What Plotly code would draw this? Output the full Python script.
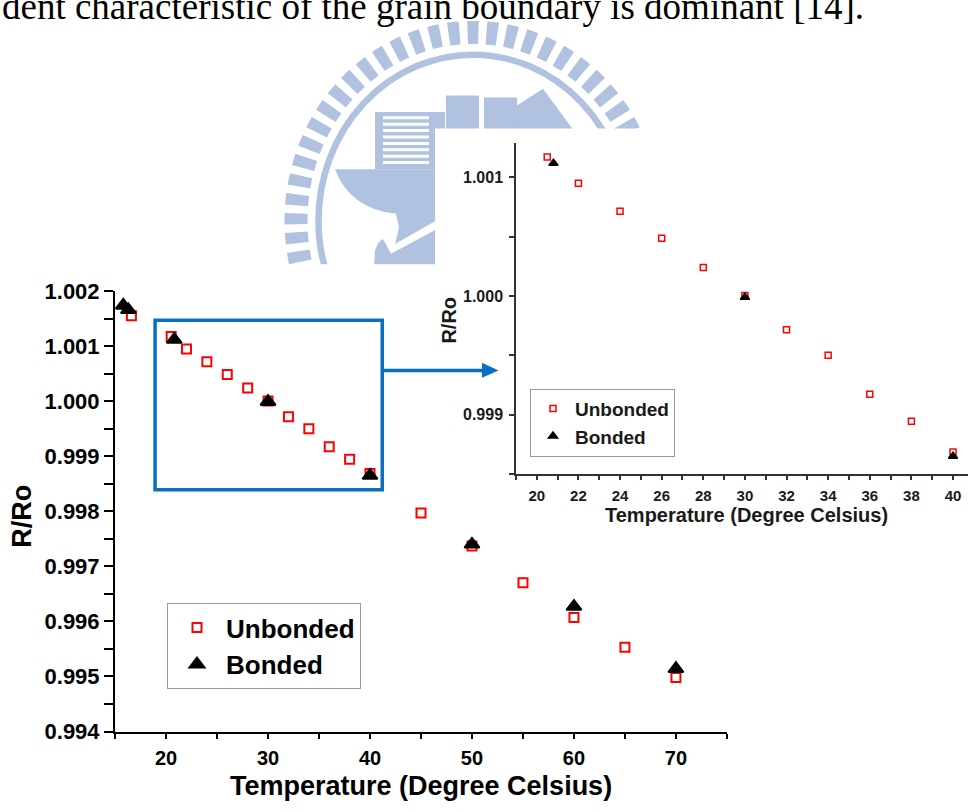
import plotly.graph_objects as go

W, H = 968, 812

# ---------------- data ----------------
temp_unbonded = [16.6, 20.5, 22, 24, 26, 28, 30, 32, 34, 36, 38, 40, 45, 50, 55, 60, 65, 70]
r_unbonded = [1.00155, 1.001173, 1.000950, 1.000715, 1.000486, 1.000240, 1.000005,
              0.999716, 0.999501, 0.999171, 0.998944, 0.998685,
              0.99797, 0.99737, 0.99670, 0.99607, 0.99553, 0.99498]
temp_bonded = [15.8, 16.3, 20.8, 30, 40, 50, 60, 70]
r_bonded = [1.00174, 1.00166, 1.00112, 0.99999, 0.99865, 0.99740, 0.99627, 0.99514]

inset_lo, inset_hi = 19, 41
ins_u = [(t, r) for t, r in zip(temp_unbonded, r_unbonded) if inset_lo <= t <= inset_hi]
ins_b = [(t, r) for t, r in zip(temp_bonded, r_bonded) if inset_lo <= t <= inset_hi]

series_names = ["Unbonded", "Bonded"]
x_title = "Temperature (Degree Celsius)"
y_title = "R/Ro"
top_text = "dent characteristic of the grain boundary is dominant [14]."

FONT = "Liberation Sans, Arial, sans-serif"
WM = "#B1C1E0"
BLUE = "#0A6FC2"


def px(x, y):
    return x / W, 1 - y / H


def path(points, close=True):
    s = ""
    for i, (x, y) in enumerate(points):
        a, b = px(x, y)
        s += ("M" if i == 0 else "L") + f"{a:.5f},{b:.5f} "
    return s + ("Z" if close else "")


def P(x, y):
    a, b = px(x, y)
    return f"{a:.5f},{b:.5f}"


fig = go.Figure()

# main chart
fig.add_trace(go.Scatter(x=temp_unbonded, y=r_unbonded, mode="markers", name=series_names[0],
                         marker=dict(symbol="square-open", size=9, color="#FF0000", line=dict(width=2, color="#FF0000")),
                         cliponaxis=False, legend="legend"))
fig.add_trace(go.Scatter(x=temp_bonded, y=r_bonded, mode="markers", name=series_names[1],
                         marker=dict(symbol="triangle-up", size=13, color="black", line=dict(width=2, color="black")),
                         cliponaxis=False, legend="legend"))
# inset
fig.add_trace(go.Scatter(x=[p[0] for p in ins_u], y=[p[1] for p in ins_u], mode="markers", name=series_names[0],
                         xaxis="x2", yaxis="y2",
                         marker=dict(symbol="square-open", size=6, color="#FF0000", line=dict(width=1.5, color="#FF0000")),
                         cliponaxis=False, legend="legend2"))
fig.add_trace(go.Scatter(x=[p[0] for p in ins_b], y=[p[1] for p in ins_b], mode="markers", name=series_names[1],
                         xaxis="x2", yaxis="y2",
                         marker=dict(symbol="triangle-up", size=8, color="black", line=dict(width=1.5, color="black")),
                         cliponaxis=False, legend="legend2"))

shapes = []
# ---- watermark (decorative) ----
cx, cy = 473, 215
def ellipse(rx, ry, width, dash=None, color=WM):
    d = dict(type="circle", xref="paper", yref="paper", layer="below",
             x0=(cx - rx) / W, x1=(cx + rx) / W, y0=1 - (cy + ry) / H, y1=1 - (cy - ry) / H,
             line=dict(color=color, width=width), fillcolor="rgba(0,0,0,0)")
    if dash:
        d["line"]["dash"] = dash
    return d

shapes.append(ellipse(177, 194, 23, dash="11px,8px"))
shapes.append(ellipse(154.5, 171, 6.5))
# buildings
shapes.append(dict(type="path", xref="paper", yref="paper", layer="below",
                   path=path([(375, 103), (445, 103), (445, 162), (375, 162)]), fillcolor=WM, line=dict(width=0)))
for i in range(8):
    yy = 109 + 6.6 * i
    shapes.append(dict(type="path", xref="paper", yref="paper", layer="below",
                       path=path([(383, yy), (429, yy)], close=False), line=dict(color="white", width=3)))
shapes.append(dict(type="path", xref="paper", yref="paper", layer="below",
                   path=path([(446, 86), (479, 86), (479, 160), (446, 160)]), fillcolor=WM, line=dict(width=0)))
shapes.append(dict(type="path", xref="paper", yref="paper", layer="below",
                   path=path([(484, 88), (517, 88), (517, 160), (484, 160)]), fillcolor=WM, line=dict(width=0)))
shapes.append(dict(type="path", xref="paper", yref="paper", layer="below",
                   path=path([(513, 99), (543, 79), (578, 128), (518, 128)]), fillcolor=WM, line=dict(width=0)))
# bowl and swoosh
shapes.append(dict(type="path", xref="paper", yref="paper", layer="below",
                   path=(f"M{P(335,162)} L{P(436,162)} L{P(436,215)} L{P(395,239)} L{P(399,222)} "
                         f"L{P(396,208)} Q{P(350,203)} {P(335,162)} Z"),
                   fillcolor=WM, line=dict(width=0)))
shapes.append(dict(type="path", xref="paper", yref="paper", layer="below",
                   path=(f"M{P(374,262)} L{P(375,246)} Q{P(378,236)} {P(383,234)} L{P(391,249)} "
                         f"L{P(436,224)} L{P(436,262)} Z"),
                   fillcolor=WM, line=dict(width=0)))
# white page areas of the two chart images
shapes.append(dict(type="rect", xref="paper", yref="paper", layer="below",
                   x0=0, x1=1, y0=0, y1=1 - 260 / H, fillcolor="white", line=dict(width=0)))
shapes.append(dict(type="rect", xref="paper", yref="paper", layer="below",
                   x0=435 / W, x1=1, y0=0, y1=1 - 120 / H, fillcolor="white", line=dict(width=0)))
# zoom box (data coordinates on main chart) and arrow
shapes.append(dict(type="rect", xref="x", yref="y", layer="above",
                   x0=18.92, x1=41.2, y0=0.998391, y1=1.001468, line=dict(color=BLUE, width=3.5)))
shapes.append(dict(type="path", xref="paper", yref="paper", layer="above",
                   path=path([(382, 369.3), (484, 369.3)], close=False), line=dict(color=BLUE, width=3.5)))
shapes.append(dict(type="path", xref="paper", yref="paper", layer="above",
                   path=path([(482, 361.5), (498.5, 369.3), (482, 377)]), fillcolor=BLUE, line=dict(width=0)))

annotations = [
    dict(text=top_text, xref="paper", yref="paper", x=866 / W, y=1 + 29 / H, xanchor="right", yanchor="top",
         showarrow=False, font=dict(family="Liberation Serif, Times New Roman, serif", size=37, color="black")),
    dict(text=x_title, xref="paper", yref="paper", x=421 / W, y=1 - 798 / H, xanchor="center", yanchor="middle",
         showarrow=False, font=dict(family=FONT, size=27, color="black", weight="bold")),
    dict(text=y_title, xref="paper", yref="paper", x=22 / W, y=1 - 520 / H, xanchor="center", yanchor="middle",
         textangle=-90, showarrow=False, font=dict(family=FONT, size=27, color="black", weight="bold")),
    dict(text=x_title, xref="paper", yref="paper", x=746 / W, y=1 - 518 / H, xanchor="center", yanchor="middle",
         showarrow=False, font=dict(family=FONT, size=20, color="#1a1a1a", weight="bold")),
    dict(text=y_title, xref="paper", yref="paper", x=449 / W, y=1 - 318 / H, xanchor="center", yanchor="middle",
         textangle=-90, showarrow=False, font=dict(family=FONT, size=20, color="#1a1a1a", weight="bold")),
]

fig.update_layout(
    width=W, height=H, margin=dict(l=0, r=0, t=0, b=0),
    paper_bgcolor="white", plot_bgcolor="rgba(0,0,0,0)",
    font=dict(family=FONT, color="black"),
    shapes=shapes, annotations=annotations,
    xaxis=dict(domain=[115 / W, 727 / W], range=[14.99, 75.01], anchor="y",
               dtick=10, tick0=0, ticks="outside", ticklen=5, tickwidth=2, tickcolor="black",
               ticklabelstandoff=2,
               minor=dict(dtick=5, tick0=0, ticks="outside", ticklen=5, tickwidth=2, tickcolor="black"),
               showline=True, linewidth=2, linecolor="black", showgrid=False, zeroline=False,
               tickfont=dict(family=FONT, size=20, color="black", weight="bold")),
    yaxis=dict(domain=[1 - 742 / H, 1 - 287 / H], range=[0.99399, 1.00201], anchor="x",
               dtick=0.001, tick0=0.994, tickformat=".3f", ticks="outside", ticklen=9, tickwidth=2, tickcolor="black",
               minor=dict(dtick=0.0005, tick0=0.994, ticks="outside", ticklen=9, tickwidth=2, tickcolor="black"),
               showline=True, linewidth=2, linecolor="black", showgrid=False, zeroline=False,
               tickfont=dict(family=FONT, size=22, color="black", weight="bold")),
    xaxis2=dict(domain=[516 / W, 1.0], range=[19, 40.72], anchor="y2",
                dtick=2, tick0=0, ticks="outside", ticklen=4, tickwidth=1.5, tickcolor="#333",
                ticklabelstandoff=3,
                minor=dict(dtick=1, tick0=0, ticks="outside", ticklen=4, tickwidth=1.5, tickcolor="#333"),
                showline=True, linewidth=1.5, linecolor="#333", showgrid=False, zeroline=False,
                tickfont=dict(family=FONT, size=15, color="#1a1a1a", weight="bold")),
    yaxis2=dict(domain=[1 - 476 / H, 1 - 135 / H], range=[0.9985, 1.00129], anchor="x2",
                dtick=0.001, tick0=0.999, tickformat=".3f", ticks="outside", ticklen=5, tickwidth=1.5, tickcolor="#333",
                ticklabelstandoff=3,
                minor=dict(dtick=0.0005, tick0=0.999, ticks="outside", ticklen=5, tickwidth=1.5, tickcolor="#333"),
                showline=True, linewidth=1.5, linecolor="#333", showgrid=False, zeroline=False,
                tickfont=dict(family=FONT, size=16, color="#1a1a1a", weight="bold")),
    legend=dict(x=167 / W, y=1 - 609 / H, xanchor="left", yanchor="top", bgcolor="white",
                bordercolor="#999", borderwidth=1, itemwidth=48, tracegroupgap=0,
                font=dict(family=FONT, size=26, color="black", weight="bold")),
    legend2=dict(x=530 / W, y=1 - 388 / H, xanchor="left", yanchor="top", bgcolor="white",
                 bordercolor="#999", borderwidth=1, itemwidth=34, tracegroupgap=0,
                 font=dict(family=FONT, size=19, color="#1a1a1a", weight="bold")),
    showlegend=True,
)

fig.write_html("out.html")
